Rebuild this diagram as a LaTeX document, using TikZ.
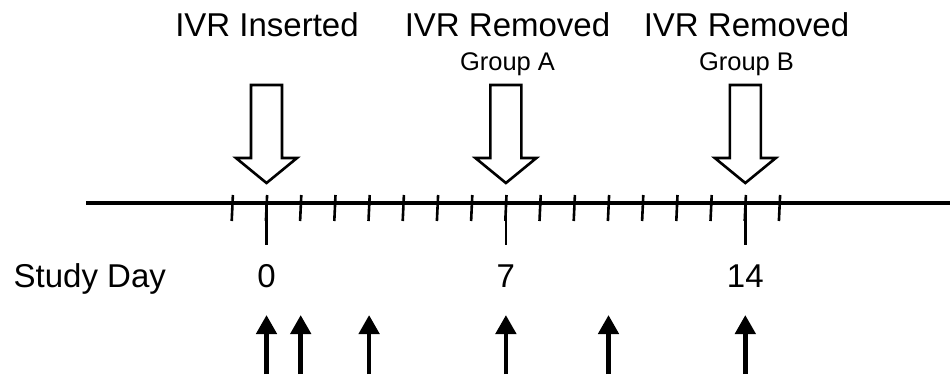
\documentclass[tikz,border=0pt]{standalone}
\usepackage{fontspec}
\setmainfont{Liberation Sans}
\usetikzlibrary{arrows.meta}
\begin{document}
\begin{tikzpicture}[x=1pt,y=-1pt,
  bigtext/.style={inner sep=0pt,anchor=base,font=\fontsize{33}{38}\selectfont},
  smalltext/.style={inner sep=0pt,anchor=base,font=\fontsize{25.5}{30}\selectfont},
  axisline/.style={line width=3.2pt},
  tickline/.style={line width=2.6pt},
  hollowarrow/.style={draw,line width=2.6pt,line join=miter,fill=white},
  solidarrow/.style={line width=4.6pt,-{Triangle[width=20pt,length=19pt]}}
]
\useasboundingbox (0,0) rectangle (952,380);
% axis
\coordinate (ls) at (86,203);
\coordinate (le) at (950,203);
\draw[axisline] (ls) -- (le);
% ticks
\foreach \d in {-1,...,15}{
  \pgfmathsetmacro{\xx}{266.5+34.2*\d}
  \coordinate (t\d) at (\xx,203);
  \draw[tickline] ([shift={(0.6,-8)}]t\d) -- ([shift={(-0.6,18)}]t\d);
}
\foreach \d in {0,7,14}{
  \draw[tickline] (t\d) -- ([shift={(0,42)}]t\d);
}
% hollow arrows
\foreach \d in {0,7,14}{
  \coordinate (h\d) at ([shift={(0,-20)}]t\d);
  \draw[hollowarrow] (h\d) -- ++(-30.5,-25) -- ++(15,0) -- ++(0,-73) -- ++(31,0) -- ++(0,73) -- ++(15,0) -- cycle;
}
% top labels
\node[bigtext] (lab0) at (267,36) {IVR Inserted};
\node[bigtext] (lab7) at (507.5,36) {IVR Removed};
\node[smalltext] (grpA) at (507.5,70) {Group A};
\node[bigtext] (lab14) at (746.5,36) {IVR Removed};
\node[smalltext] (grpB) at (746.5,70) {Group B};
% study day row
\node[bigtext,anchor=base west] (sd) at (13.5,287) {Study Day};
\node[bigtext] (d0) at ([shift={(0,84)}]t0) {0};
\node[bigtext] (d7) at ([shift={(0,84)}]t7) {7};
\node[bigtext] (d14) at ([shift={(0,84)}]t14) {14};
% sampling arrows
\foreach \d in {0,1,3,7,10,14}{
  \coordinate (sb\d) at ([shift={(0,171)}]t\d);
  \coordinate (st\d) at ([shift={(0,112)}]t\d);
  \draw[solidarrow] (sb\d) -- (st\d);
}
\end{tikzpicture}
\end{document}
